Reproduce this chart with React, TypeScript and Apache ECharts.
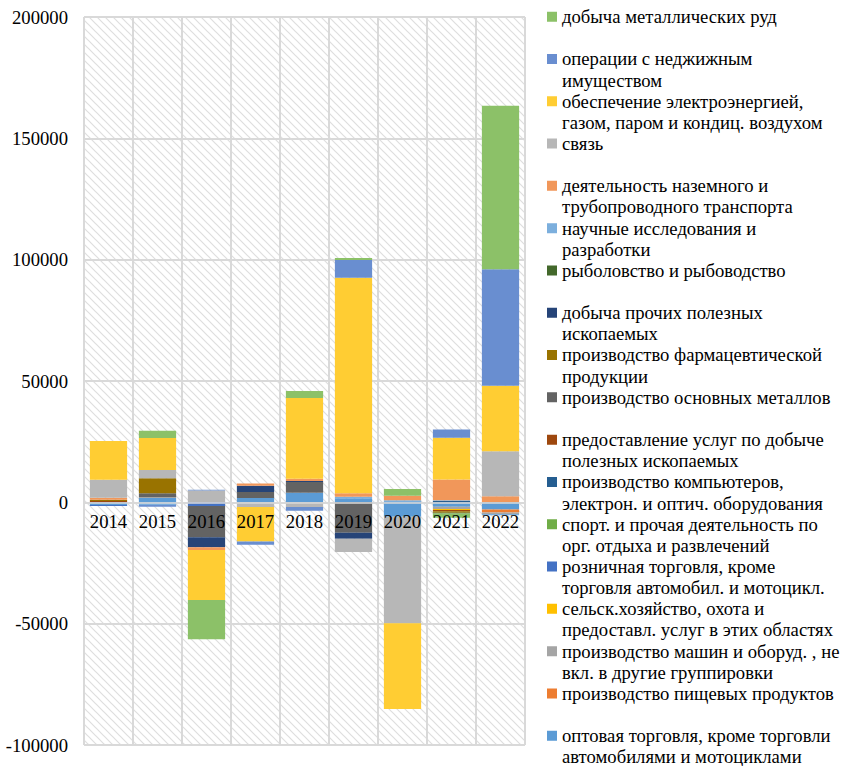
import React, { useEffect, useRef } from "react";
import * as echarts from "echarts";

const years = ["2014", "2015", "2016", "2017", "2018", "2019", "2020", "2021", "2022"];
const yTicks = { min: -100000, max: 200000, interval: 50000 };

// series in stacking order (bottom first)
const wholesale = [-1100, 1800, 0, 1800, 3900, 1650, -5900, -1800, -3000];
const food = [0, 0, 0, 0, 0, 0, 0, 0, -1200];
const machinery = [0, 400, 0, 0, 0, 0, 0, -900, -600];
const agriculture = [0, 0, 0, 0, 0, 0, 0, -500, 0];
const retail = [-400, 0, -1500, 0, 0, 0, 0, 0, 0];
const sport = [0, 0, 0, 0, 0, 0, 0, 0, 0];
const computers = [0, 0, 0, 0, 0, 0, 0, 500, 0];
const miningServices = [500, 0, 0, 0, 0, 0, 0, -500, 0];
const basicMetals = [0, 1500, -12900, 2500, 4500, -12500, 0, 0, 0];
const pharma = [600, 6200, 0, 0, 0, 0, 0, -600, 0];
const otherMining = [0, 0, -4100, 2500, 400, -2500, 0, 0, 0];
const fishing = [0, 0, 0, 0, 0, 0, 0, -300, 0];
const research = [0, -1100, 0, 0, 0, 700, 900, 400, -500];
const transport = [800, 0, -1100, 1000, 950, 1350, 1800, 8500, 2500];
const communication = [7400, 3450, 4900, -1900, -1900, -5500, -43900, 0, 18500];
const electricity = [16000, 13200, -20600, -14200, 33200, 88800, -35400, 17200, 27000];
const realEstate = [0, -700, 300, -1400, -1600, 7400, 0, 3400, 48000];
const metalOres = [0, 3000, -16200, 0, 2900, 800, 2800, -1800, 67400];

const seriesNames = [
  "оптовая торговля, кроме торговли автомобилями и мотоциклами",
  "производство пищевых продуктов",
  "производство машин и оборуд. , не вкл. в другие группировки",
  "сельск.хозяйство, охота и предоставл. услуг в этих областях",
  "розничная торговля, кроме торговля автомобил. и мотоцикл.",
  "спорт. и прочая деятельность по орг. отдыха и развлечений",
  "производство компьютеров, электрон. и оптич. оборудования",
  "предоставление услуг по добыче полезных ископаемых",
  "производство основных металлов",
  "производство фармацевтической продукции",
  "добыча прочих полезных ископаемых",
  "рыболовство и рыбоводство",
  "научные исследования и разработки",
  "деятельность наземного и трубопроводного транспорта",
  "связь",
  "обеспечение электроэнергией, газом, паром и кондиц. воздухом",
  "операции с неджижным имуществом",
  "добыча металлических руд",
];

const legendLabels = [
  "оптовая торговля, кроме торговли\nавтомобилями и мотоциклами",
  "производство пищевых продуктов",
  "производство машин и оборуд. , не\nвкл. в другие группировки",
  "сельск.хозяйство, охота и\nпредоставл. услуг в этих областях",
  "розничная торговля, кроме\nторговля автомобил. и мотоцикл.",
  "спорт. и прочая деятельность по\nорг. отдыха и развлечений",
  "производство компьютеров,\nэлектрон. и оптич. оборудования",
  "предоставление услуг по добыче\nполезных ископаемых",
  "производство основных металлов",
  "производство фармацевтической\nпродукции",
  "добыча прочих полезных\nископаемых",
  "рыболовство и рыбоводство",
  "научные исследования и\nразработки",
  "деятельность наземного и\nтрубопроводного транспорта",
  "связь",
  "обеспечение электроэнергией,\nгазом, паром и кондиц. воздухом",
  "операции с неджижным\nимуществом",
  "добыча металлических руд",
];

const seriesValues = [
  wholesale, food, machinery, agriculture, retail, sport, computers, miningServices,
  basicMetals, pharma, otherMining, fishing, research, transport, communication,
  electricity, realEstate, metalOres,
];

const colors = [
  "#5B9BD5", "#ED7D31", "#A5A5A5", "#FFC000", "#4472C4", "#70AD47",
  "#255E91", "#9E480E", "#636363", "#997300", "#264478", "#43682B",
  "#7CAFDD", "#F1975A", "#B7B7B7", "#FFCD33", "#698ED0", "#8CC168",
];

const FONT = '"Liberation Serif", "Times New Roman", "DejaVu Serif", serif';
const FS = 18.67;

const hatchSvg =
  "<svg xmlns='http://www.w3.org/2000/svg' width='8' height='8'>" +
  "<path d='M-2,-2 L10,10 M-2,6 L2,10 M6,-2 L10,2' stroke='#dedede' stroke-width='1.2' fill='none'/></svg>";
const hatchUrl = "data:image/svg+xml;charset=utf-8," + encodeURIComponent(hatchSvg);

export default function App() {
  const ref = useRef<HTMLDivElement>(null);
  useEffect(() => {
    if (!ref.current) return;
    const chart = echarts.init(ref.current, null, { renderer: "svg" });
    const labelMap: Record<string, string> = {};
    seriesNames.forEach((n, i) => {
      const l = legendLabels[i];
      labelMap[n] = l.indexOf("\n") >= 0 ? l : l + "\n ";
    });
    const gridTop = 17;
    const gridBottom = 21;
    const plotH = 766 - gridTop - gridBottom;
    // offset of the category axis from the plot bottom to the value 0
    const zeroOffset = -plotH * (0 - yTicks.min) / (yTicks.max - yTicks.min);
    chart.setOption({
      animation: false,
      color: colors,
      textStyle: { fontFamily: FONT },
      grid: {
        left: 84,
        right: 319,
        top: gridTop,
        bottom: gridBottom,
        show: true,
        borderWidth: 0,
        backgroundColor: { image: hatchUrl, repeat: "repeat", imageWidth: 8, imageHeight: 8 },
        outerBoundsMode: "none",
        containLabel: false,
      },
      legend: {
        orient: "vertical",
        left: 547,
        top: 6,
        height: 800,
        padding: 0,
        itemWidth: 10,
        itemHeight: 31,
        itemGap: 0,
        icon: "path://M0,0L10,0L10,10L0,10Z M5,31L5.01,31L5,31.01Z",
        data: seriesNames.slice().reverse(),
        formatter: (name: string) => labelMap[name] || name,
        textStyle: { fontSize: FS, lineHeight: 21.15, color: "#000", fontFamily: FONT },
      },
      xAxis: [
        {
          type: "category",
          data: years,
          axisLine: { show: false },
          axisTick: { show: false },
          axisLabel: { show: false },
          splitLine: { show: true, lineStyle: { color: "#d9d9d9", width: 2 } },
        },
        {
          type: "category",
          data: years,
          position: "bottom",
          offset: zeroOffset,
          z: 10,
          axisLine: { onZero: false, lineStyle: { color: "#d9d9d9", width: 1.5 } },
          axisTick: { show: false },
          splitLine: { show: false },
          axisLabel: { fontSize: FS, color: "#000", margin: 10, fontFamily: FONT },
        },
      ],
      yAxis: {
        type: "value",
        min: yTicks.min,
        max: yTicks.max,
        interval: yTicks.interval,
        axisLine: { show: false },
        axisTick: { show: false },
        splitLine: { show: true, lineStyle: { color: "#d9d9d9", width: 2 } },
        axisLabel: {
          fontSize: FS,
          color: "#000",
          margin: 16,
          fontFamily: FONT,
          formatter: (v: number) => String(v),
        },
      },
      series: seriesNames.map((name, i) => ({
        name,
        type: "bar",
        stack: "total",
        barWidth: "76%",
        xAxisIndex: 0,
        data: seriesValues[i],
        itemStyle: { color: colors[i] },
      })),
    });
    return () => chart.dispose();
  }, []);
  return (
    <div
      ref={ref}
      style={{ position: "fixed", left: 0, top: 0, width: 844, height: 766, background: "#fff" }}
    />
  );
}
